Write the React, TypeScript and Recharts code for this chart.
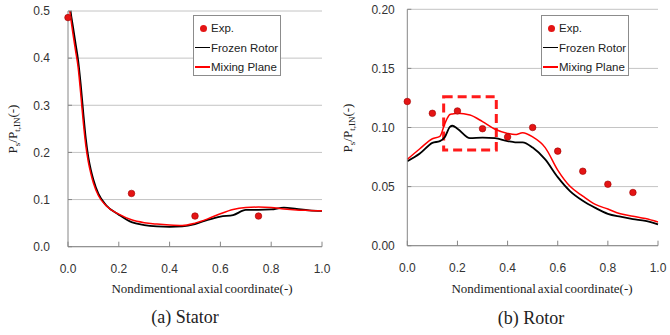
import React from 'react';
import {
  ComposedChart, Line, Scatter, XAxis, YAxis, CartesianGrid, ReferenceArea
} from 'recharts';

// x positions shared by the x axis of both panels
const xTicks = [0, 0.2, 0.4, 0.6, 0.8, 1.0];

// (a) Stator
const statorX = [0, 0.01, 0.02, 0.03, 0.04, 0.05, 0.06, 0.07, 0.08, 0.09, 0.1, 0.12, 0.15, 0.2, 0.25, 0.3, 0.35, 0.4, 0.45, 0.5, 0.55, 0.6, 0.65, 0.7, 0.75, 0.8, 0.85, 0.9, 0.95, 1.0];
const statorFrozen = [0.55, 0.5, 0.465, 0.43, 0.395, 0.345, 0.285, 0.23, 0.19, 0.163, 0.142, 0.112, 0.088, 0.068, 0.052, 0.046, 0.043, 0.042, 0.043, 0.048, 0.057, 0.064, 0.067, 0.078, 0.078, 0.079, 0.083, 0.08, 0.077, 0.076];
const statorMixing = [0.53, 0.488, 0.45, 0.415, 0.38, 0.325, 0.265, 0.215, 0.18, 0.155, 0.135, 0.108, 0.087, 0.069, 0.057, 0.051, 0.048, 0.046, 0.045, 0.05, 0.059, 0.07, 0.079, 0.083, 0.084, 0.083, 0.08, 0.078, 0.077, 0.076];
const statorExpX = [0, 0.25, 0.5, 0.75];
const statorExp = [0.486, 0.113, 0.065, 0.065];
const statorYTicks = [0, 0.1, 0.2, 0.3, 0.4, 0.5];

// (b) Rotor
const rotorX = [0, 0.05, 0.1, 0.13, 0.15, 0.17, 0.18, 0.2, 0.25, 0.3, 0.35, 0.4, 0.43, 0.46, 0.5, 0.55, 0.6, 0.65, 0.7, 0.75, 0.8, 0.85, 0.9, 0.95, 1.0];
const rotorFrozen = [0.0715, 0.078, 0.087, 0.0885, 0.092, 0.1005, 0.1015, 0.099, 0.091, 0.0915, 0.091, 0.0885, 0.0875, 0.0875, 0.083, 0.073, 0.058, 0.046, 0.038, 0.032, 0.027, 0.0245, 0.0225, 0.021, 0.018];
const rotorMixing = [0.073, 0.082, 0.0905, 0.0925, 0.1035, 0.111, 0.1115, 0.112, 0.1105, 0.105, 0.0985, 0.095, 0.094, 0.0955, 0.092, 0.083, 0.064, 0.05, 0.042, 0.035, 0.031, 0.027, 0.025, 0.023, 0.02];
const rotorExpX = [0, 0.1, 0.2, 0.3, 0.4, 0.5, 0.6, 0.7, 0.8, 0.9];
const rotorExp = [0.122, 0.112, 0.114, 0.099, 0.092, 0.1, 0.08, 0.063, 0.052, 0.045];
const rotorYTicks = [0, 0.05, 0.1, 0.15, 0.2];

const legendItems = [
  { name: 'Exp.', kind: 'dot', color: '#e41414' },
  { name: 'Frozen Rotor', kind: 'line', color: '#000000' },
  { name: 'Mixing Plane', kind: 'line', color: '#ff0000' },
];

const AXIS = '#868686';
const GRID = '#c4c4c4';
const SANS = '"Liberation Sans", Arial, sans-serif';
const SERIF = '"Liberation Serif", "Times New Roman", serif';

const zip = (xs: number[], ys: number[]) => xs.map((x, i) => ({ x, y: ys[i] }));

function ExpDot(props: any) {
  const { cx, cy } = props;
  return <circle cx={cx} cy={cy} r={3.3} fill="#e41414" stroke="#a00000" strokeWidth={0.6} />;
}

function makeYTick(digits: number, gap: number) {
  return (props: any) => {
    const { x, y, payload } = props;
    return (
      <g>
        <line x1={x + gap} x2={x + gap + 4} y1={y} y2={y} stroke={AXIS} />
        <text x={x} y={y} dy="0.36em" textAnchor="end" fontFamily={SANS} fontSize={12} fill="#333">
          {Number(payload.value).toFixed(digits)}
        </text>
      </g>
    );
  };
}

function makeXTick(gap: number) {
  return (props: any) => {
    const { x, y, payload } = props;
    return (
      <g>
        <line x1={x} x2={x} y1={y - gap} y2={y - gap - 5} stroke={AXIS} />
        <text x={x} y={y} dy="0.36em" textAnchor="middle" fontFamily={SANS} fontSize={12} fill="#333">
          {Number(payload.value).toFixed(1)}
        </text>
      </g>
    );
  };
}

function Legend({ left, top, width }: { left: number; top: number; width: number }) {
  return (
    <div style={{
      position: 'absolute', left, top, width, height: 61, boxSizing: 'border-box',
      border: '1px solid #8c8c8c', background: '#fff', fontFamily: SANS, fontSize: 11.5, color: '#222',
    }}>
      {legendItems.map((it, i) => (
        <div key={it.name} style={{ position: 'absolute', left: 0, top: 12 + i * 19.5 - 8, height: 16, width: '100%' }}>
          {it.kind === 'dot' ? (
            <span style={{ position: 'absolute', left: 5.5, top: 4.5, width: 7, height: 7, borderRadius: '50%', background: it.color }} />
          ) : (
            <span style={{ position: 'absolute', left: 1, top: 7, width: 15, height: 1.8, background: it.color }} />
          )}
          <span style={{ position: 'absolute', left: 17, top: 0, lineHeight: '16px', whiteSpace: 'nowrap' }}>{it.name}</span>
        </div>
      ))}
    </div>
  );
}

type PanelProps = {
  offset: number;
  xs: number[]; frozen: number[]; mixing: number[];
  expX: number[]; exp: number[];
  yTicks: number[]; digits: number;
  plotLeft: number; plotRight: number; plotTop: number; plotBottom: number;
  yGap: number;
  legend: { left: number; top: number; width: number };
  title: { x: number; y: number };
  caption: { x: number; y: number; text: string };
  box?: boolean;
};

function Panel(p: PanelProps) {
  const W = 335;
  const H = 290;
  const yMax = p.yTicks[p.yTicks.length - 1];
  const xGap = 22;
  return (
    <div style={{ position: 'absolute', left: p.offset, top: 0, width: W, height: 335 }}>
      <ComposedChart
        width={W}
        height={H}
        margin={{ top: p.plotTop, right: W - p.plotRight, left: 0, bottom: 0 }}
      >
        <CartesianGrid vertical={false} stroke={GRID} />
        <XAxis
          type="number"
          dataKey="x"
          domain={[0, 1]}
          ticks={xTicks}
          interval={0}
          height={H - p.plotBottom}
          stroke={AXIS}
          tickLine={false}
          tickSize={0}
          tickMargin={xGap}
          tick={makeXTick(xGap)}
        />
        <YAxis
          type="number"
          domain={[0, yMax]}
          ticks={p.yTicks}
          interval={0}
          allowDataOverflow
          width={p.plotLeft}
          stroke={AXIS}
          tickLine={false}
          tickSize={0}
          tickMargin={p.yGap}
          tick={makeYTick(p.digits, p.yGap)}
        />
        <YAxis yAxisId="frame" orientation="right" width={0} domain={[0, yMax]} tick={false} tickLine={false} axisLine={{ stroke: GRID }} />
        <Line data={zip(p.xs, p.frozen)} dataKey="y" name="Frozen Rotor" type="monotone" stroke="#000" strokeWidth={1.8} dot={false} isAnimationActive={false} />
        <Line data={zip(p.xs, p.mixing)} dataKey="y" name="Mixing Plane" type="monotone" stroke="#ff0000" strokeWidth={1.5} dot={false} isAnimationActive={false} />
        <Scatter data={zip(p.expX, p.exp)} dataKey="y" name="Exp." shape={ExpDot} isAnimationActive={false} />
        {p.box && (
          <ReferenceArea x1={0.145} x2={0.355} y1={0.081} y2={0.126} fill="none" fillOpacity={0}
            stroke="#ff1a1a" strokeWidth={3} strokeDasharray="9 5" />
        )}
      </ComposedChart>

      <div style={{
        position: 'absolute', left: 13, top: (p.plotTop + p.plotBottom) / 2,
        transform: 'translate(-50%, -50%) rotate(-90deg)', whiteSpace: 'nowrap',
        fontFamily: SERIF, fontSize: 13, color: '#222',
      }}>
        P<sub style={{ fontSize: 9, verticalAlign: -3 }}>s</sub>/P<sub style={{ fontSize: 9, verticalAlign: -3 }}>t,IN</sub>(-)
      </div>

      <Legend {...p.legend} />

      <div style={{
        position: 'absolute', left: p.title.x, top: p.title.y, transform: 'translate(-50%, -50%)',
        whiteSpace: 'nowrap', fontFamily: SERIF, fontSize: 13, color: '#222', wordSpacing: -1.5,
      }}>
        Nondimentional axial coordinate(-)
      </div>
      <div style={{
        position: 'absolute', left: p.caption.x, top: p.caption.y, transform: 'translate(-50%, -50%)',
        whiteSpace: 'nowrap', fontFamily: SERIF, fontSize: 18, color: '#222',
      }}>
        {p.caption.text}
      </div>
    </div>
  );
}

export default function App() {
  return (
    <div style={{ position: 'absolute', left: 0, top: 0, width: 670, height: 335, background: '#fff' }}>
      <Panel
        offset={0}
        xs={statorX} frozen={statorFrozen} mixing={statorMixing}
        expX={statorExpX} exp={statorExp}
        yTicks={statorYTicks} digits={1}
        plotLeft={68} plotRight={322} plotTop={11} plotBottom={246.7}
        yGap={18}
        legend={{ left: 193, top: 15, width: 88 }}
        title={{ x: 202, y: 289 }}
        caption={{ x: 185, y: 317, text: '(a) Stator' }}
      />
      <Panel
        offset={335}
        xs={rotorX} frozen={rotorFrozen} mixing={rotorMixing}
        expX={rotorExpX} exp={rotorExp}
        yTicks={rotorYTicks} digits={2}
        plotLeft={72.3} plotRight={323} plotTop={9.3} plotBottom={245.7}
        yGap={12.5}
        legend={{ left: 206, top: 15, width: 88 }}
        title={{ x: 207, y: 289 }}
        caption={{ x: 196, y: 318, text: '(b) Rotor' }}
        box
      />
    </div>
  );
}
